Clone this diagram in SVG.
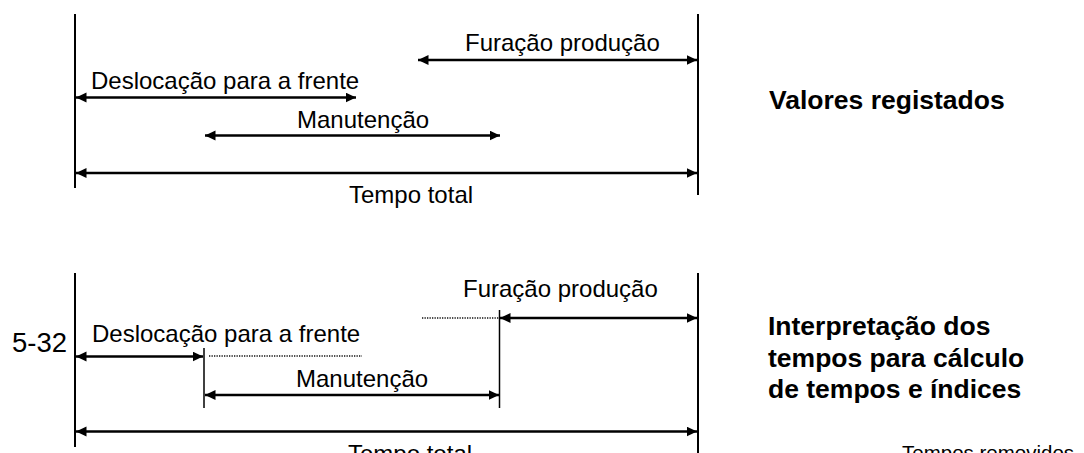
<svg xmlns="http://www.w3.org/2000/svg" width="1084" height="453" viewBox="0 0 1084 453">
<style>
  .t { font-family: "Liberation Sans", Arial, sans-serif; font-size: 24px; fill: #000; }
  .b { font-family: "Liberation Sans", Arial, sans-serif; font-size: 26.5px; font-weight: bold; fill: #000; }
  .v { stroke: #000; stroke-width: 2; fill: none; }
  .vi { stroke: #000; stroke-width: 1.5; fill: none; }
  .a { stroke: #000; stroke-width: 2.4; fill: none; marker-start: url(#ah); marker-end: url(#ah); }
  .d { stroke: #111; stroke-width: 1.3; stroke-dasharray: 1.3 1.2; fill: none; }
</style>
<defs>
  <marker id="ah" markerUnits="userSpaceOnUse" markerWidth="12" markerHeight="11" refX="10.5" refY="5" orient="auto-start-reverse">
    <path d="M0,0 L10.5,5 L0,10 z" fill="#000"/>
  </marker>
</defs>
<rect width="1084" height="453" fill="#fff"/>

<!-- Top: recorded values -->
<g id="top-bounds">
  <line class="v" x1="75" y1="14" x2="75" y2="188"/>
  <line class="v" x1="698" y1="14" x2="698" y2="195"/>
</g>
<g id="top-connectors">
  <line class="a" x1="418" y1="60" x2="697" y2="60"/>
  <line class="a" x1="76" y1="97.5" x2="356" y2="97.5"/>
  <line class="a" x1="205" y1="135.5" x2="500" y2="135.5"/>
  <line class="a" x1="76" y1="173" x2="697" y2="173"/>
</g>
<g id="top-furacao"><text class="t" x="465" y="51">Furação produção</text></g>
<g id="top-deslocacao"><text class="t" x="91" y="89">Deslocação para a frente</text></g>
<g id="top-manutencao"><text class="t" x="297" y="128">Manutenção</text></g>
<g id="top-tempo"><text class="t" x="349" y="203">Tempo total</text></g>
<g id="label-valores"><text class="b" x="769" y="109">Valores registados</text></g>

<!-- Bottom: interpretation -->
<g id="bottom-bounds">
  <line class="v" x1="75" y1="273" x2="75" y2="447"/>
  <line class="v" x1="698" y1="273" x2="698" y2="453"/>
  <line class="vi" x1="204" y1="348" x2="204" y2="408"/>
  <line class="vi" x1="499.5" y1="310" x2="499.5" y2="408"/>
</g>
<g id="bottom-connectors">
  <line class="a" x1="76" y1="356.5" x2="203" y2="356.5"/>
  <line class="d" x1="209" y1="356" x2="362" y2="356"/>
  <line class="a" x1="205" y1="395" x2="499" y2="395"/>
  <line class="d" x1="422" y1="318" x2="499" y2="318"/>
  <line class="a" x1="500" y1="318" x2="697" y2="318"/>
  <line class="a" x1="76" y1="431.5" x2="697" y2="431.5"/>
</g>
<g id="page-number"><text class="t" x="12" y="352" style="font-size:27.5px">5-32</text></g>
<g id="bottom-deslocacao"><text class="t" x="92" y="342">Deslocação para a frente</text></g>
<g id="bottom-furacao"><text class="t" x="463" y="297">Furação produção</text></g>
<g id="bottom-manutencao"><text class="t" x="296" y="387">Manutenção</text></g>
<g id="bottom-tempo"><text class="t" x="348" y="462">Tempo total</text></g>
<g id="label-interpretacao">
  <text class="b" x="768" y="335">Interpretação dos</text>
  <text class="b" x="768" y="367">tempos para cálculo</text>
  <text class="b" x="768" y="398">de tempos e índices</text>
</g>
<g id="label-removidos"><text class="t" x="902" y="460" style="font-size:20.5px">Tempos removidos</text></g>
</svg>
